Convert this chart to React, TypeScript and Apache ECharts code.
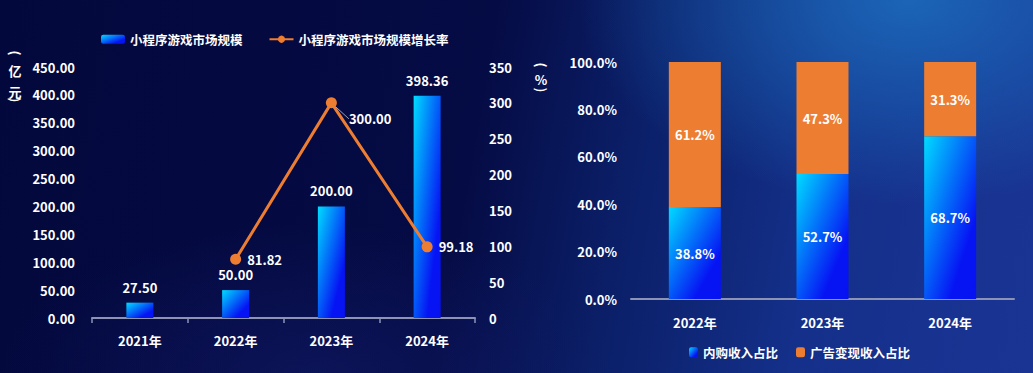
import React, { useEffect, useRef } from "react";
import * as echarts from "echarts";

const years4 = ["2021年", "2022年", "2023年", "2024年"];
const marketSize = [27.5, 50.0, 200.0, 398.36];
const growthRate: (number | null)[] = [null, 81.82, 300.0, 99.18];
const years3 = ["2022年", "2023年", "2024年"];
const inAppShare = [38.8, 52.7, 68.7];
const adShare = [61.2, 47.3, 31.3];

const FONT = '"Noto Sans CJK SC", "Noto Sans", sans-serif';
const ORANGE = "#ed7d31";
const AXIS_COLOR = "#8d93b4";

const blueGrad = () =>
  new echarts.graphic.LinearGradient(0, 0, 1, 1, [
    { offset: 0, color: "#00dcff" },
    { offset: 0.75, color: "#0614f4" },
    { offset: 1, color: "#0612f2" },
  ]);

const labelStyle = {
  color: "#ffffff",
  fontFamily: FONT,
  fontWeight: "bold" as const,
  fontSize: 13,
};

export default function App() {
  const ref = useRef<HTMLDivElement>(null);
  useEffect(() => {
    document.body.style.margin = "0";
    if (!ref.current) return;
    const chart = echarts.init(ref.current, undefined, { renderer: "svg" });
    const nameText = (t: string, x: number, y: number, rotation = 0) => ({
      type: "text",
      x,
      y,
      rotation,
      style: {
        text: t,
        fill: "#fff",
        font: `bold 13px ${FONT}`,
        align: "center",
        verticalAlign: "middle",
      },
    });
    const R = -Math.PI / 2;
    const lineData = growthRate.map((v, i) =>
      i === 2
        ? { value: v, labelLine: { show: true, lineStyle: { color: "#9aa0b0", width: 1 } } }
        : v
    );
    chart.setOption({
      animation: false,
      backgroundColor: "transparent",
      textStyle: { fontFamily: FONT },
      grid: [
        { left: 92, right: 558, top: 67, bottom: 55 },
        { left: 631, right: 19, top: 62, bottom: 74 },
      ],
      legend: [
        {
          data: ["小程序游戏市场规模", "小程序游戏市场规模增长率"],
          left: 96,
          top: 28,
          itemWidth: 24,
          itemHeight: 9,
          itemGap: 26,
          textStyle: { ...labelStyle, fontSize: 12.5 },
        },
        {
          data: ["内购收入占比", "广告变现收入占比"],
          left: 684,
          top: 341,
          itemWidth: 9,
          itemHeight: 10,
          itemGap: 18,
          textStyle: { ...labelStyle, fontSize: 12.5 },
        },
      ],
      xAxis: [
        {
          type: "category",
          gridIndex: 0,
          data: years4,
          axisLine: { lineStyle: { color: AXIS_COLOR, width: 2 } },
          axisTick: { show: true, length: 5, lineStyle: { color: AXIS_COLOR, width: 1.5 } },
          axisLabel: { ...labelStyle, margin: 16 },
        },
        {
          type: "category",
          gridIndex: 1,
          data: years3,
          axisLine: { lineStyle: { color: AXIS_COLOR, width: 2 } },
          axisTick: { show: false },
          axisLabel: { ...labelStyle, margin: 17 },
        },
      ],
      yAxis: [
        {
          type: "value",
          gridIndex: 0,
          min: 0,
          max: 450,
          interval: 50,
          splitLine: { show: false },
          axisLine: { show: false },
          axisLabel: { ...labelStyle, margin: 17, formatter: (v: number) => v.toFixed(2) },
        },
        {
          type: "value",
          gridIndex: 0,
          position: "right",
          min: 0,
          max: 350,
          interval: 50,
          splitLine: { show: false },
          axisLine: { show: false },
          axisLabel: { ...labelStyle, margin: 14 },
        },
        {
          type: "value",
          gridIndex: 1,
          min: 0,
          max: 100,
          interval: 20,
          splitLine: { show: false },
          axisLine: { show: false },
          axisLabel: { ...labelStyle, margin: 14, formatter: (v: number) => v.toFixed(1) + "%" },
        },
      ],
      series: [
        {
          name: "小程序游戏市场规模",
          type: "bar",
          xAxisIndex: 0,
          yAxisIndex: 0,
          barWidth: 27,
          data: marketSize,
          itemStyle: { color: blueGrad() },
          label: {
            show: true,
            position: "top",
            distance: 9,
            ...labelStyle,
            formatter: (p: any) => Number(p.value).toFixed(2),
          },
        },
        {
          name: "小程序游戏市场规模增长率",
          type: "line",
          xAxisIndex: 0,
          yAxisIndex: 1,
          data: lineData,
          symbol: "circle",
          symbolSize: 11,
          lineStyle: { color: ORANGE, width: 3 },
          itemStyle: { color: ORANGE },
          label: {
            show: true,
            position: "right",
            distance: 6,
            ...labelStyle,
            formatter: (p: any) => Number(p.value).toFixed(2),
          },
          labelLayout: (p: any) => (p.dataIndex === 2 ? { dx: 6, dy: 16 } : {}),
        },
        {
          name: "内购收入占比",
          type: "bar",
          xAxisIndex: 1,
          yAxisIndex: 2,
          stack: "share",
          barWidth: 52,
          data: inAppShare,
          itemStyle: { color: blueGrad() },
          label: {
            show: true,
            position: "inside",
            ...labelStyle,
            formatter: (p: any) => Number(p.value).toFixed(1) + "%",
          },
        },
        {
          name: "广告变现收入占比",
          type: "bar",
          xAxisIndex: 1,
          yAxisIndex: 2,
          stack: "share",
          barWidth: 52,
          data: adShare,
          itemStyle: { color: ORANGE },
          label: {
            show: true,
            position: "inside",
            ...labelStyle,
            formatter: (p: any) => Number(p.value).toFixed(1) + "%",
          },
        },
      ],
      graphic: [
        nameText("(", 15, 53, R),
        nameText("亿", 15, 70),
        nameText("元", 15, 91),
        nameText(")", 15, 100, R),
        nameText("(", 541, 65, R),
        nameText("%", 541, 79),
        nameText(")", 541, 90, R),
      ],
    });
    return () => chart.dispose();
  }, []);

  return (
    <div
      style={{
        position: "fixed",
        left: 0,
        top: 0,
        width: 1033,
        height: 373,
        background:
          "radial-gradient(ellipse 32% 55% at 88% 0%, rgba(28,110,190,0.85) 0%, rgba(28,110,190,0) 100%), radial-gradient(ellipse 30% 40% at 30% 100%, rgba(20,30,110,0.5) 0%, rgba(20,30,110,0) 100%), linear-gradient(100deg, #03083c 0%, #050b44 45%, #0b1f68 60%, #14308a 78%, #1a3494 100%)",
      }}
    >
      <div ref={ref} style={{ width: 1033, height: 373 }} />
    </div>
  );
}
